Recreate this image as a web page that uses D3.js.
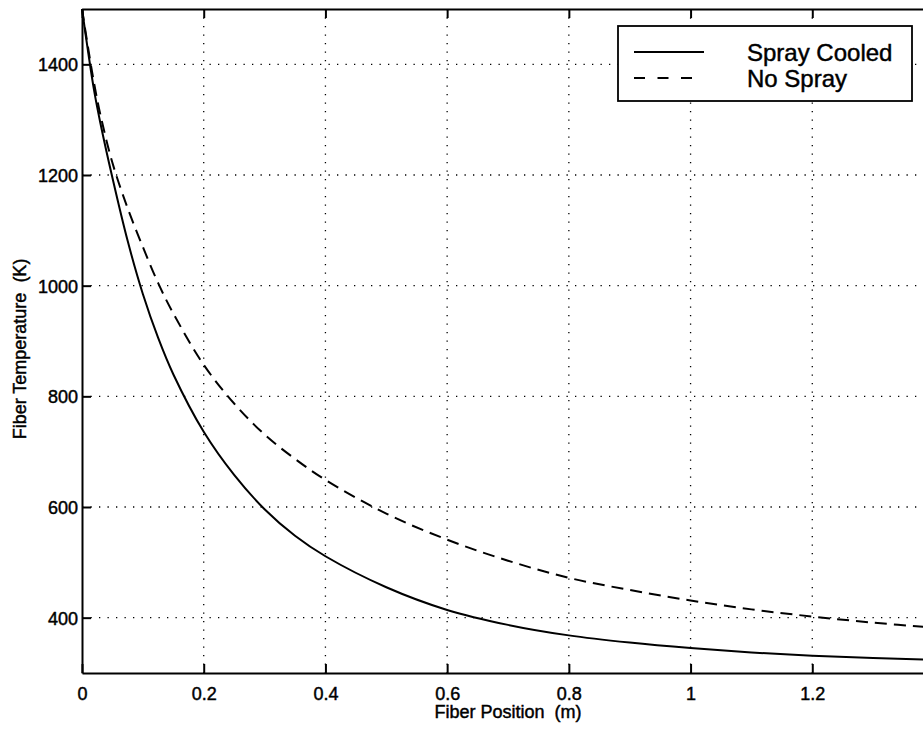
<!DOCTYPE html>
<html>
<head>
<meta charset="utf-8">
<script src="https://cdn.jsdelivr.net/npm/d3@7"></script>
<style>
body { margin: 0; background: #fff; }
svg { display: block; font-family: "Liberation Sans", Arial, Helvetica, sans-serif; }
text { fill: #000; stroke: #000; stroke-width: 0.45px; }
.tick text { font-size: 18px; }
.title { font-size: 18px; }
.leg { font-size: 24px; }
</style>
</head>
<body>
<div id="chart"></div>
<script>
// fiber position (m)
var position = [0, 0.01, 0.02, 0.03, 0.05, 0.075, 0.1, 0.125, 0.15, 0.2, 0.25, 0.3, 0.35, 0.4, 0.5, 0.6, 0.7, 0.8, 0.9, 1.0, 1.1, 1.2, 1.3, 1.4];
// fiber temperature (K)
var sprayCooled = [1500, 1423, 1352, 1295, 1195, 1081, 985, 906, 840, 736, 658, 596, 548, 511, 455, 414, 387, 368, 355, 345, 337, 331, 327, 324];
var noSpray = [1500, 1430, 1365, 1310, 1222, 1140, 1070, 1005, 950, 857, 787, 731, 687, 649, 588, 541, 503, 472, 450, 431, 415, 402, 391, 382];
var xTicks = [0, 0.2, 0.4, 0.6, 0.8, 1, 1.2];
var yTicks = [400, 600, 800, 1000, 1200, 1400];
var seriesNames = ["Spray Cooled", "No Spray"];

var margin = {top: 9, left: 82};
var width = 852, height = 664;

var svg = d3.select("#chart").append("svg")
  .attr("width", 923)
  .attr("height", 731);

var g = svg.append("g")
  .attr("transform", "translate(" + margin.left + "," + margin.top + ")");

var x = d3.scaleLinear().domain([0, 1.4]).range([0, width]);
var y = d3.scaleLinear().domain([300, 1500]).range([height, 0]);

// dotted grid
g.append("g").selectAll("line")
  .data(xTicks.slice(1))
  .enter().append("line")
  .attr("x1", function(d){ return x(d); })
  .attr("x2", function(d){ return x(d); })
  .attr("y1", 0).attr("y2", height)
  .attr("stroke", "#000").attr("stroke-width", 1.3)
  .attr("stroke-dasharray", "1.3,7.2");
g.append("g").selectAll("line")
  .data(yTicks)
  .enter().append("line")
  .attr("y1", function(d){ return y(d); })
  .attr("y2", function(d){ return y(d); })
  .attr("x1", 0).attr("x2", width)
  .attr("stroke", "#000").attr("stroke-width", 1.3)
  .attr("stroke-dasharray", "1.3,7.2");

var fmt = d3.format("~g");

// axes with inward ticks
var xAxis = g.append("g")
  .attr("transform", "translate(0," + height + ")")
  .call(d3.axisBottom(x).tickValues(xTicks).tickFormat(fmt).tickSizeInner(-9).tickSizeOuter(0).tickPadding(14));
var xTop = g.append("g")
  .call(d3.axisTop(x).tickValues(xTicks).tickFormat("").tickSizeInner(-9).tickSizeOuter(0));
var yAxis = g.append("g")
  .call(d3.axisLeft(y).tickValues(yTicks).tickFormat(d3.format("d")).tickSizeInner(-9).tickSizeOuter(0).tickPadding(4));
var yRight = g.append("g")
  .attr("transform", "translate(" + width + ",0)")
  .call(d3.axisRight(y).tickValues(yTicks).tickFormat("").tickSizeInner(-9).tickSizeOuter(0));

[xAxis, xTop, yAxis, yRight].forEach(function(a){
  a.selectAll("path").attr("stroke", "#000").attr("stroke-width", 2);
  a.selectAll(".tick line").attr("stroke", "#000").attr("stroke-width", 2);
});
yAxis.selectAll(".tick text").attr("dy", "0.36em");

// curves
var line = d3.line()
  .x(function(d){ return x(d[0]); })
  .y(function(d){ return y(d[1]); })
  .curve(d3.curveCatmullRom.alpha(0.5));

g.append("path")
  .datum(position.map(function(p, i){ return [p, sprayCooled[i]]; }))
  .attr("d", line)
  .attr("fill", "none").attr("stroke", "#000").attr("stroke-width", 2);

g.append("path")
  .datum(position.map(function(p, i){ return [p, noSpray[i]]; }))
  .attr("d", line)
  .attr("fill", "none").attr("stroke", "#000").attr("stroke-width", 2)
  .attr("stroke-dasharray", "12,7");

// axis titles
svg.append("text")
  .attr("class", "title")
  .attr("text-anchor", "middle")
  .attr("x", margin.left + width / 2)
  .attr("y", 718)
  .text("Fiber Position\u00a0\u00a0(m)");

svg.append("text")
  .attr("class", "title")
  .attr("text-anchor", "middle")
  .attr("transform", "translate(26," + 349 + ") rotate(-90)")
  .text("Fiber Temperature\u00a0\u00a0(K)");

// legend
var leg = svg.append("g");
leg.append("rect")
  .attr("x", 618).attr("y", 26)
  .attr("width", 294).attr("height", 75)
  .attr("fill", "#fff").attr("stroke", "#000").attr("stroke-width", 1.8);

seriesNames.forEach(function(name, i){
  var ly = 52 + i * 26;
  leg.append("line")
    .attr("x1", 634).attr("x2", 704)
    .attr("y1", ly).attr("y2", ly)
    .attr("stroke", "#000").attr("stroke-width", 2)
    .attr("stroke-dasharray", i === 0 ? null : "11,12.5");
  leg.append("text")
    .attr("class", "leg")
    .attr("x", 747).attr("y", ly + 9)
    .text(name);
});
</script>
</body>
</html>
